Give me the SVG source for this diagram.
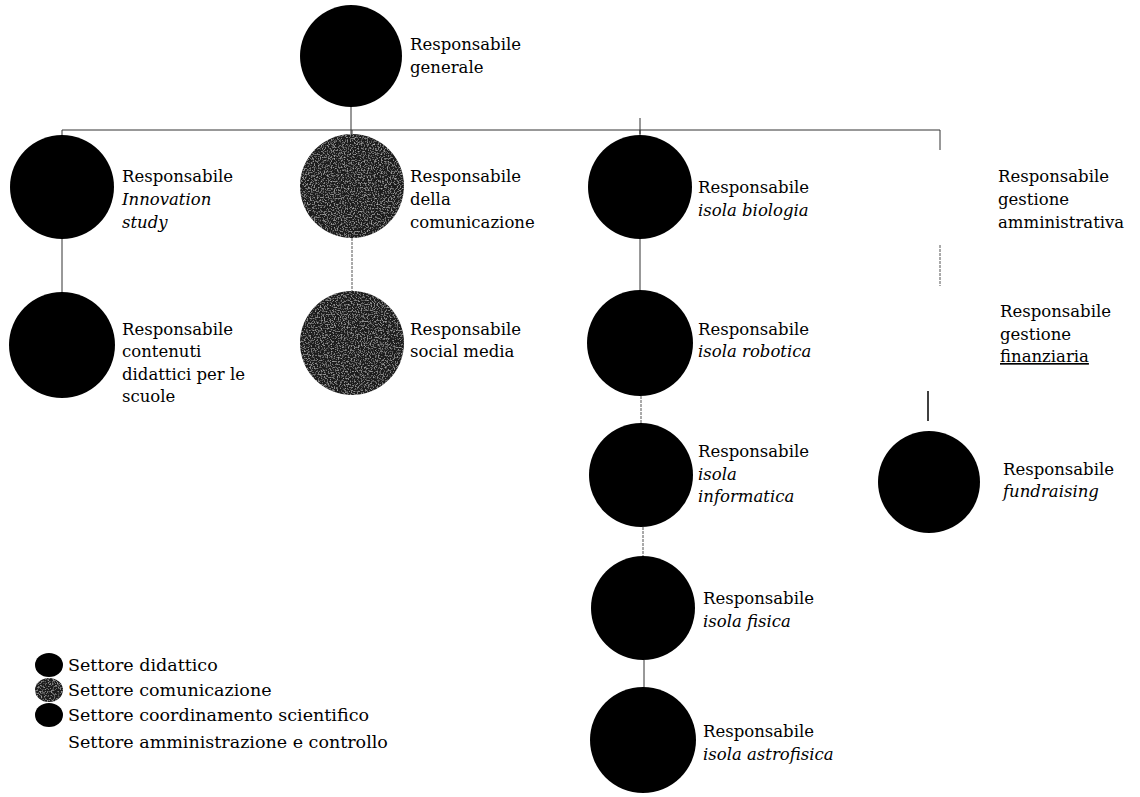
<svg xmlns="http://www.w3.org/2000/svg" width="1140" height="797" viewBox="0 0 1140 797">
<style>
.n{fill:#000}
.g{fill:#1c1c1c;filter:url(#grain)}
.t{font-family:"DejaVu Serif","Liberation Serif",serif;font-size:16.5px;fill:#000}
.i{font-style:italic}
.lg{font-family:"DejaVu Serif","Liberation Serif",serif;font-size:17.5px;fill:#000}
.c{stroke:#333;stroke-width:1;fill:none}
.d{stroke:#555;stroke-width:1;fill:none;stroke-dasharray:3 1}
</style>
<defs>
<filter id="grain" x="0" y="0" width="1" height="1">
<feTurbulence type="fractalNoise" baseFrequency="0.7" numOctaves="2" seed="3" result="n"/>
<feColorMatrix in="n" type="matrix" values="0 0 0 0 0.6  0 0 0 0 0.6  0 0 0 0 0.6  0 0 0 2.0 -1.0" result="s"/>
<feComposite in="s" in2="SourceGraphic" operator="in" result="c"/>
<feMerge><feMergeNode in="SourceGraphic"/><feMergeNode in="c"/></feMerge>
</filter>
</defs>
<rect width="1140" height="797" fill="#fff"/>

<g id="connectors">
<line class="c" x1="351" y1="107" x2="351" y2="136"/>
<line class="c" x1="62" y1="130" x2="940" y2="130"/>
<line class="c" x1="640" y1="118" x2="640" y2="134"/>
<line class="c" x1="62" y1="130" x2="62" y2="136"/>
<line class="c" x1="352" y1="130" x2="352" y2="136"/>
<line class="c" x1="640" y1="130" x2="640" y2="136"/>
<line class="c" x1="940" y1="130" x2="940" y2="150"/>
<line class="d" x1="940" y1="245" x2="940" y2="286"/>
<line class="c" x1="62" y1="239" x2="62" y2="292"/>
<line class="d" x1="352" y1="238" x2="352" y2="291"/>
<line class="c" x1="640" y1="239" x2="640" y2="291"/>
<line class="d" x1="641" y1="396" x2="641" y2="424"/>
<line stroke="#000" stroke-width="1.5" x1="928" y1="391" x2="928" y2="421"/>
<line class="d" x1="643" y1="527" x2="643" y2="557"/>
<line class="c" x1="644" y1="660" x2="644" y2="688"/>
</g>

<g id="n-generale">
<circle class="n" cx="351" cy="56" r="51"/>
<text class="t" x="410" y="50">Responsabile</text>
<text class="t" x="410" y="73">generale</text>
</g>

<g id="n-innovation">
<circle class="n" cx="62" cy="187" r="52"/>
<text class="t" x="122" y="182">Responsabile</text>
<text class="t i" x="122" y="205">Innovation</text>
<text class="t i" x="122" y="228">study</text>
</g>

<g id="n-comunicazione">
<circle class="g" cx="352" cy="186" r="52"/>
<text class="t" x="410" y="182">Responsabile</text>
<text class="t" x="410" y="205">della</text>
<text class="t" x="410" y="228">comunicazione</text>
</g>

<g id="n-biologia">
<circle class="n" cx="640" cy="187" r="52"/>
<text class="t" x="698" y="193">Responsabile</text>
<text class="t i" x="698" y="216">isola biologia</text>
</g>

<g id="n-amministrativa">
<text class="t" x="998" y="182">Responsabile</text>
<text class="t" x="998" y="205">gestione</text>
<text class="t" x="998" y="228">amministrativa</text>
</g>

<g id="n-contenuti">
<circle class="n" cx="62" cy="345" r="53"/>
<text class="t" x="122" y="335">Responsabile</text>
<text class="t" x="122" y="357">contenuti</text>
<text class="t" x="122" y="380">didattici per le</text>
<text class="t" x="122" y="402">scuole</text>
</g>

<g id="n-social">
<circle class="g" cx="352" cy="343" r="52"/>
<text class="t" x="410" y="335">Responsabile</text>
<text class="t" x="410" y="357">social media</text>
</g>

<g id="n-robotica">
<circle class="n" cx="640" cy="343" r="53"/>
<text class="t" x="698" y="335">Responsabile</text>
<text class="t i" x="698" y="357">isola robotica</text>
</g>

<g id="n-finanziaria">
<text class="t" x="1000" y="317">Responsabile</text>
<text class="t" x="1000" y="340">gestione</text>
<text class="t" x="1000" y="362" text-decoration="underline">finanziaria</text>
</g>

<g id="n-informatica">
<circle class="n" cx="641" cy="475" r="52"/>
<text class="t" x="698" y="457">Responsabile</text>
<text class="t i" x="698" y="480">isola</text>
<text class="t i" x="698" y="502">informatica</text>
</g>

<g id="n-fundraising">
<circle class="n" cx="929" cy="482" r="51"/>
<text class="t" x="1003" y="475">Responsabile</text>
<text class="t i" x="1003" y="497">fundraising</text>
</g>

<g id="n-fisica">
<circle class="n" cx="643" cy="608" r="52"/>
<text class="t" x="703" y="604">Responsabile</text>
<text class="t i" x="703" y="627">isola fisica</text>
</g>

<g id="n-astrofisica">
<circle class="n" cx="643" cy="740" r="53"/>
<text class="t" x="703" y="737">Responsabile</text>
<text class="t i" x="703" y="760">isola astrofisica</text>
</g>

<g id="legend">
<ellipse class="n" cx="49" cy="665" rx="14" ry="12"/>
<text class="lg" x="68" y="671">Settore didattico</text>
<ellipse class="g" cx="49" cy="690" rx="14" ry="12"/>
<text class="lg" x="68" y="696">Settore comunicazione</text>
<ellipse class="n" cx="49" cy="715" rx="14" ry="12"/>
<text class="lg" x="68" y="721">Settore coordinamento scientifico</text>
<text class="lg" x="68" y="748">Settore amministrazione e controllo</text>
</g>
</svg>
